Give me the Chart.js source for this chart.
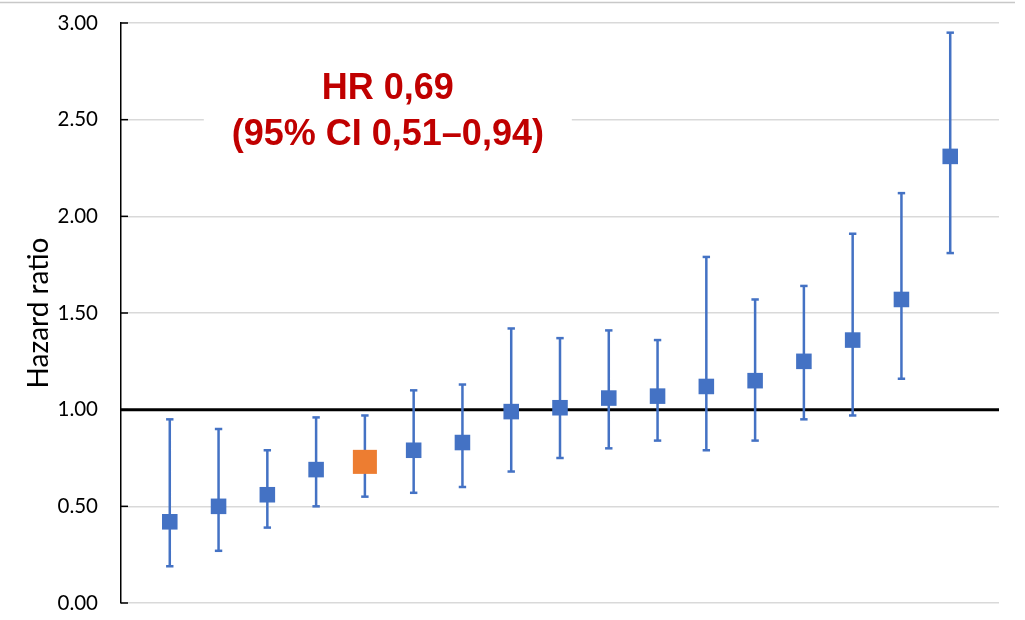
<!DOCTYPE html>
<html>
<head>
<meta charset="utf-8">
<script src="https://cdn.jsdelivr.net/npm/chart.js@4/dist/chart.umd.min.js"></script>
<style>
  html, body { margin: 0; padding: 0; background: #fff; }
  #wrap { width: 1025px; height: 620px; position: relative; }
</style>
</head>
<body>
<div id="wrap"><canvas id="c" width="1025" height="620"></canvas></div>
<script>
// ---- data ----
const studyIndex = [1, 2, 3, 4, 5, 6, 7, 8, 9, 10, 11, 12, 13, 14, 15, 16, 17];
const hazardRatio = [0.42, 0.50, 0.56, 0.69, 0.73, 0.79, 0.83, 0.99, 1.01, 1.06, 1.07, 1.12, 1.15, 1.25, 1.36, 1.57, 2.31];
const ciLower = [0.19, 0.27, 0.39, 0.50, 0.55, 0.57, 0.60, 0.68, 0.75, 0.80, 0.84, 0.79, 0.84, 0.95, 0.97, 1.16, 1.81];
const ciUpper = [0.95, 0.90, 0.79, 0.96, 0.97, 1.10, 1.13, 1.42, 1.37, 1.41, 1.36, 1.79, 1.57, 1.64, 1.91, 2.12, 2.95];
const highlightIndex = 4;
const referenceValue = 1.0;
const yTicks = [0, 0.5, 1.0, 1.5, 2.0, 2.5, 3.0];
const annotationLines = ['HR 0,69', '(95% CI 0,51–0,94)'];
const yTitle = 'Hazard ratio';

const BLUE = '#4472C4';
const ORANGE = '#ED7D31';

// build datasets from the arrays
const markerData = studyIndex.map((x, i) => ({ x: x, y: hazardRatio[i] }));
const whiskerData = [];
studyIndex.forEach((x, i) => {
  whiskerData.push({ x: x, y: ciLower[i] });
  whiskerData.push({ x: x, y: ciUpper[i] });
  whiskerData.push({ x: x, y: null });
});
const xMin = 0, xMax = studyIndex.length + 1;
const refData = [{ x: xMin, y: referenceValue }, { x: xMax, y: referenceValue }];

const framePlugin = {
  id: 'frame',
  beforeDraw(chart) {
    const ctx = chart.ctx;
    ctx.save();
    ctx.strokeStyle = '#c8c8c8';
    ctx.lineWidth = 1.5;
    ctx.beginPath();
    ctx.moveTo(0, 2.5);
    ctx.lineTo(1015, 2.5);
    ctx.stroke();
    ctx.restore();
  }
};

const annotationPlugin = {
  id: 'hrAnnotation',
  beforeDatasetsDraw(chart) {
    const ctx = chart.ctx;
    const xs = chart.scales.x, ys = chart.scales.y;
    const cx = xs.getPixelForValue(5.47);
    const cy = ys.getPixelForValue(2.54);
    ctx.save();
    ctx.fillStyle = '#ffffff';
    ctx.fillRect(cx - 184, cy - 60, 368, 120);
    ctx.fillStyle = '#C00000';
    ctx.font = 'bold 36px "Liberation Sans", Arial, sans-serif';
    ctx.textAlign = 'center';
    ctx.textBaseline = 'middle';
    ctx.fillText(annotationLines[0], cx, cy - 23);
    ctx.fillText(annotationLines[1], cx, cy + 23);
    ctx.restore();
  }
};

const insideTicksPlugin = {
  id: 'insideTicks',
  afterDatasetsDraw(chart) {
    const ctx = chart.ctx;
    const ys = chart.scales.y;
    const left = chart.chartArea.left;
    ctx.save();
    ctx.strokeStyle = '#000';
    ctx.lineWidth = 1.5;
    ys.ticks.forEach(t => {
      const py = ys.getPixelForValue(t.value);
      ctx.beginPath();
      ctx.moveTo(left, py);
      ctx.lineTo(left + 7, py);
      ctx.stroke();
    });
    ctx.restore();
  }
};

new Chart(document.getElementById('c'), {
  type: 'scatter',
  data: {
    datasets: [
      {
        label: 'Hazard ratio',
        data: markerData,
        showLine: false,
        pointStyle: 'rect',
        pointRadius: studyIndex.map((_, i) => i === highlightIndex ? 17 : 11),
        backgroundColor: studyIndex.map((_, i) => i === highlightIndex ? ORANGE : BLUE),
        borderColor: studyIndex.map((_, i) => i === highlightIndex ? ORANGE : BLUE),
        borderWidth: 0
      },
      {
        label: '95% CI',
        data: whiskerData,
        showLine: true,
        spanGaps: false,
        borderColor: BLUE,
        borderWidth: 2.5,
        pointStyle: 'line',
        pointRadius: 3.7,
        pointBorderWidth: 2.5,
        pointBorderColor: BLUE,
        pointBackgroundColor: BLUE
      },
      {
        label: 'Reference',
        data: refData,
        showLine: true,
        borderColor: '#000',
        borderWidth: 3,
        pointRadius: 0
      }
    ]
  },
  options: {
    responsive: false,
    animation: false,
    devicePixelRatio: 1,
    layout: { padding: { top: 23, right: 26, bottom: 9, left: 0 } },
    plugins: { legend: { display: false }, tooltip: { enabled: false } },
    scales: {
      x: {
        type: 'linear',
        min: xMin,
        max: xMax,
        display: false
      },
      y: {
        type: 'linear',
        min: yTicks[0],
        max: yTicks[yTicks.length - 1],
        afterBuildTicks(scale) { scale.ticks = yTicks.map(v => ({ value: v })); },
        afterFit(scale) {
          scale.width = 121;
          scale.paddingTop = 0;
          scale.paddingBottom = 0;
        },
        ticks: {
          padding: 23,
          color: '#000',
          font: { family: 'Lato, "Open Sans", sans-serif', size: 20.5 },
          callback: v => Number(v).toFixed(2)
        },
        grid: {
          color: '#d9d9d9',
          lineWidth: 1.5,
          drawTicks: false
        },
        border: { display: true, color: '#000', width: 1.5 },
        title: {
          display: true,
          text: yTitle,
          color: '#000',
          font: { family: 'Lato, "Open Sans", sans-serif', size: 28 },
          padding: { top: 22, bottom: 0 }
        }
      }
    }
  },
  plugins: [framePlugin, annotationPlugin, insideTicksPlugin]
});
</script>
</body>
</html>
